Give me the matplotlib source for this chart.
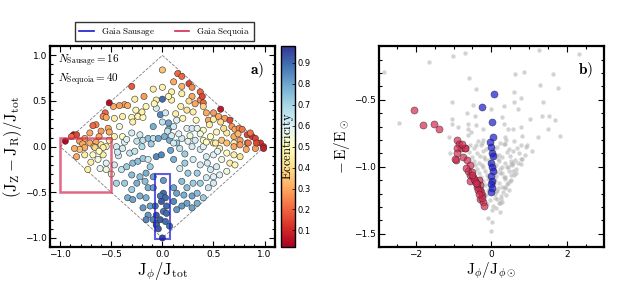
import numpy as np
import matplotlib
matplotlib.use("Agg")
import matplotlib.pyplot as plt
from matplotlib.patches import Rectangle
from matplotlib.lines import Line2D

plt.rcParams['mathtext.fontset'] = 'cm'
plt.rcParams['font.family'] = 'DejaVu Sans'

# ---- panel a: action-space diamond (Jphi/Jtot, (Jz-Jr)/Jtot, eccentricity) ----
jphi_a = [
    0.00, -0.30, -0.18, -0.09, 0.00, 0.09, 0.11, 0.15, 0.19, 0.19, 0.26, 0.29, 0.19, 0.29, 0.37,
    0.37, 0.39, 0.40, 0.09, 0.06, -0.06, 0.00, -0.27, -0.37, -0.42, -0.48, -0.34, -0.52, -0.56, -0.58,
    -0.55, -0.65, -0.68, -0.47, -0.39, -0.30, -0.24, -0.19, -0.29, -0.20, -0.16, -0.06, -0.02, 0.03, 0.00,
    -0.09, 0.06, 0.06, 0.11, 0.14, 0.24, 0.29, 0.34, 0.40, 0.20, 0.24, 0.32, 0.30, 0.43, 0.50,
    0.45, 0.50, 0.57, 0.55, 0.61, 0.66, 0.57, 0.68, 0.71, 0.75, 0.78, 0.83, 0.88, 0.91, 0.96,
    0.99, 0.70, 0.76, 0.83, 0.70, 0.63, 0.53, 0.47, 0.40, 0.50, 0.58, -0.53, -0.60, -0.62, -0.52,
    -0.47, -0.39, -0.52, -0.71, -0.76, -0.81, -0.87, -0.95, -0.84, -0.89, -0.78, -0.71, -0.65, -0.67, -0.60,
    -0.55, -0.30, -0.25, -0.19, -0.14, -0.09, -0.04, 0.02, 0.07, 0.14, 0.19, 0.25, 0.32, 0.37, 0.09,
    -0.37, -0.84, -0.73, -0.76, -0.68, -0.63, -0.58, -0.55, -0.61, -0.55, -0.66, -0.58, -0.76, -0.81, -0.45,
    -0.39, -0.32, -0.43, -0.47, -0.40, -0.35, -0.29, -0.24, -0.19, -0.14, -0.06, -0.01, -0.30, -0.22, -0.16,
    -0.09, -0.25, -0.17, -0.37, -0.45, -0.14, -0.09, -0.30, -0.34, -0.29, -0.22, -0.16, -0.19, -0.12, -0.14,
    -0.09, -0.16, -0.06, 0.01, 0.01, -0.02, 0.03, -0.01, -0.07, 0.04, 0.01, -0.06, 0.04, -0.02, 0.03,
    -0.06, 0.07, 0.00, -0.04, 0.11, 0.17, 0.29, 0.37, 0.40, 0.43, 0.52, 0.56, 0.63, 0.70, 0.76,
    0.84, 0.91, 0.92, 0.99, 0.82, 0.70, 0.63, 0.76, 0.50, 0.43, 0.58, 0.66, 0.71, 0.53, 0.47,
    0.37, 0.30, 0.22, 0.11, 0.17, 0.25, 0.34, 0.43, 0.50, 0.56, 0.63, 0.37, 0.45, 0.50, 0.30,
    0.24, 0.19, 0.11, 0.14, 0.21, 0.29, 0.34, 0.40, 0.24, 0.19, 0.34, 0.29, 0.11, 0.14,
    # extra fill points
    -0.35, -0.22, -0.11, 0.05, 0.16, 0.27, -0.42, -0.26, 0.33, 0.46, 0.60, 0.74, 0.86, 0.44, 0.54,
    -0.86, -0.70, -0.50, -0.62, -0.44, 0.08, 0.22, -0.12, -0.27, -0.20, 0.18, 0.26, 0.40, -0.08, 0.13,
]
jzr_a = [
    0.84, 0.66, 0.55, 0.63, 0.65, 0.60, 0.71, 0.80, 0.77, 0.66, 0.69, 0.65, 0.58, 0.55, 0.60,
    0.51, 0.55, 0.48, 0.51, 0.55, 0.51, 0.52, 0.52, 0.46, 0.45, 0.44, 0.45, 0.48, 0.37, 0.33,
    0.32, 0.24, 0.23, 0.31, 0.33, 0.32, 0.33, 0.32, 0.27, 0.38, 0.44, 0.42, 0.35, 0.37, 0.27,
    0.22, 0.26, 0.19, 0.22, 0.29, 0.20, 0.20, 0.20, 0.18, 0.31, 0.40, 0.47, 0.38, 0.37, 0.37,
    0.29, 0.30, 0.41, 0.33, 0.31, 0.29, 0.27, 0.22, 0.19, 0.20, 0.19, 0.13, 0.11, 0.09, 0.04,
    0.00, 0.11, 0.07, 0.04, 0.04, 0.15, 0.16, 0.11, 0.07, 0.04, 0.07, 0.20, 0.17, 0.11, 0.07,
    0.11, 0.11, 0.16, 0.15, 0.09, 0.06, 0.13, 0.06, 0.13, 0.11, 0.03, 0.04, 0.05, 0.00, 0.02,
    0.00, 0.15, 0.06, 0.07, 0.09, 0.09, 0.09, 0.11, 0.07, 0.04, 0.09, 0.06, 0.07, 0.14, 0.12,
    0.05, -0.11, -0.25, -0.09, -0.09, -0.14, -0.09, -0.18, -0.24, -0.25, -0.01, -0.01, -0.01, -0.03, 0.00,
    -0.02, -0.07, -0.10, -0.20, -0.25, -0.22, -0.18, -0.16, -0.13, -0.14, -0.11, -0.09, -0.31, -0.33, -0.29,
    -0.33, -0.40, -0.38, -0.40, -0.40, -0.45, -0.45, -0.47, -0.56, -0.58, -0.54, -0.56, -0.67, -0.65, -0.75,
    -0.80, -0.80, -0.84, -0.37, -0.51, -0.54, -0.56, -0.60, -0.65, -0.65, -0.71, -0.75, -0.73, -0.80, -0.82,
    -0.86, -0.87, -1.00, -0.90, 0.04, -0.02, 0.00, -0.03, 0.00, 0.05, 0.04, -0.02, 0.04, 0.00, 0.02,
    0.04, -0.02, 0.04, -0.02, -0.03, -0.09, -0.07, -0.11, -0.09, -0.11, -0.14, -0.18, -0.20, -0.22, -0.25,
    -0.20, -0.14, -0.18, -0.14, -0.24, -0.29, -0.29, -0.34, -0.33, -0.31, -0.27, -0.40, -0.45, -0.40, -0.40,
    -0.45, -0.38, -0.45, -0.51, -0.53, -0.54, -0.51, -0.56, -0.62, -0.65, -0.62, -0.67, -0.60, -0.69,
    0.08, 0.13, 0.03, 0.17, 0.14, 0.12, 0.22, 0.40, 0.29, 0.24, 0.20, 0.14, 0.15, -0.18, -0.05,
    -0.02, -0.17, -0.30, -0.05, -0.06, -0.04, -0.08, -0.22, -0.05, 0.00, 0.44, 0.50, 0.44, 0.47, 0.36,
]
ecc_a = [
    0.35, 0.18, 0.28, 0.45, 0.46, 0.45, 0.30, 0.20, 0.20, 0.32, 0.15, 0.25, 0.45, 0.30, 0.20,
    0.25, 0.15, 0.20, 0.45, 0.48, 0.45, 0.90, 0.45, 0.28, 0.28, 0.30, 0.30, 0.05, 0.20, 0.25,
    0.30, 0.25, 0.20, 0.45, 0.45, 0.48, 0.47, 0.50, 0.45, 0.45, 0.48, 0.62, 0.85, 0.62, 0.65,
    0.78, 0.80, 0.78, 0.62, 0.60, 0.60, 0.62, 0.58, 0.50, 0.47, 0.42, 0.30, 0.45, 0.30, 0.28,
    0.30, 0.45, 0.07, 0.30, 0.28, 0.15, 0.40, 0.28, 0.30, 0.25, 0.22, 0.15, 0.12, 0.15, 0.12,
    0.08, 0.30, 0.28, 0.25, 0.45, 0.45, 0.48, 0.50, 0.50, 0.42, 0.35, 0.30, 0.28, 0.30, 0.45,
    0.47, 0.50, 0.30, 0.30, 0.30, 0.28, 0.04, 0.04, 0.15, 0.20, 0.30, 0.30, 0.30, 0.38, 0.45,
    0.45, 0.62, 0.65, 0.65, 0.75, 0.65, 0.80, 0.78, 0.78, 0.72, 0.62, 0.60, 0.62, 0.55, 0.62,
    0.60, 0.30, 0.45, 0.45, 0.50, 0.55, 0.45, 0.60, 0.58, 0.55, 0.38, 0.45, 0.30, 0.35, 0.62,
    0.62, 0.65, 0.62, 0.62, 0.65, 0.72, 0.75, 0.75, 0.72, 0.62, 0.85, 0.85, 0.75, 0.75, 0.78,
    0.80, 0.78, 0.75, 0.72, 0.70, 0.78, 0.80, 0.72, 0.78, 0.80, 0.78, 0.78, 0.82, 0.80, 0.82,
    0.85, 0.85, 0.90, 0.82, 0.90, 0.88, 0.90, 0.92, 0.88, 0.90, 0.88, 0.92, 0.90, 0.92, 0.90,
    0.90, 0.88, 0.95, 0.92, 0.62, 0.65, 0.62, 0.62, 0.60, 0.50, 0.45, 0.45, 0.35, 0.30, 0.28,
    0.22, 0.28, 0.15, 0.08, 0.30, 0.45, 0.50, 0.42, 0.60, 0.62, 0.55, 0.45, 0.48, 0.62, 0.62,
    0.62, 0.62, 0.72, 0.78, 0.62, 0.72, 0.72, 0.62, 0.60, 0.60, 0.55, 0.72, 0.65, 0.62, 0.72,
    0.75, 0.75, 0.80, 0.80, 0.78, 0.80, 0.75, 0.72, 0.80, 0.82, 0.78, 0.80, 0.85, 0.82,
    0.60, 0.62, 0.72, 0.65, 0.60, 0.55, 0.55, 0.48, 0.50, 0.45, 0.40, 0.32, 0.22, 0.62, 0.58,
    0.30, 0.45, 0.55, 0.50, 0.62, 0.80, 0.72, 0.72, 0.65, 0.68, 0.45, 0.40, 0.38, 0.48, 0.45,
]

# ---- panel b: energy vs Jphi ----
jphi_bg = [
    -2.83, -1.66, -1.02, -0.70, 1.26, 2.32, -0.58, -0.41, 0.63, 0.87, 1.62, 1.29, 1.77, 0.61, 0.59,
    0.79, 0.32, 0.71, 1.35, 0.00, -0.48, -1.05, -2.43, -1.04, -1.05, -0.89, -0.65, -0.62, -0.43, -0.40,
    -0.21, -0.21, -0.61, -0.61, -0.55, -1.12, 0.27, 0.33, 0.45, 0.58, 0.79, 0.80, 1.02, 1.33, 1.51,
    1.69, 1.49, 1.82, 1.24, 0.60, 0.35, 0.22, 0.35, -0.26, -0.40, 0.77, 1.07, 0.92, 0.82, 0.77,
    0.64, 0.51, 0.37, 0.26, 0.46, -1.09, -0.56, 0.02, 0.00, -0.08, 0.23,
    -0.47, -0.28, -0.13, 0.14, 0.33, 0.47, 0.68, 0.93, -0.58, -0.37, -0.22, 0.08, 0.19, 0.42,
    0.57, -0.52, -0.31, -0.17, 0.12, 0.27, 0.48, 0.63, 0.88, -0.46, -0.33, -0.07, 0.17, 0.36,
    0.53, 0.78, -0.43, -0.23, -0.03, 0.11, 0.29, 0.52, 0.69, -0.38, -0.18, 0.07, 0.22, 0.41,
    0.58, -0.33, -0.12, 0.13, 0.24, 0.47, 0.61, -0.28, -0.08, 0.11, 0.32, 0.51, -0.22, 0.09,
    0.21, 0.36, 0.48, -0.16, 0.06, 0.27, 0.42, -0.09, 0.12, 0.18, 0.37, -0.13, 0.09, 0.26,
    -0.04, 0.16, 0.29, -0.11, 0.04, 0.19, 0.01, 0.13, -0.35, 0.39, 0.72, 0.55, 0.31, 0.44,
    0.05, 0.21, -0.19, 0.35, 0.66, 0.15, 0.28, -0.26, 0.09, 0.43, 0.57, 0.24, 0.38, -0.02,
]
energy_bg = [
    -0.29, -0.22, -0.17, -0.15, -0.13, -0.16, -0.34, -0.42, -0.31, -0.29, -0.31, -0.39, -0.41, -0.44, -0.52,
    -0.49, -0.55, -0.57, -0.52, -0.57, -0.54, -0.52, -0.67, -0.64, -0.68, -0.70, -0.60, -0.68, -0.62, -0.69,
    -0.72, -0.80, -0.72, -0.76, -0.74, -0.78, -0.63, -0.68, -0.72, -0.72, -0.70, -0.77, -0.64, -0.62, -0.62,
    -0.65, -0.72, -0.77, -0.78, -0.81, -0.78, -0.82, -0.83, -0.82, -0.84, -0.84, -0.88, -0.85, -0.94, -0.98,
    -1.05, -1.10, -1.16, -1.24, -1.17, -0.90, -0.84, -1.41, -1.48, -1.38, -1.34,
    -0.86, -0.84, -0.87, -0.85, -0.83, -0.87, -0.86, -0.84, -0.89, -0.90, -0.88, -0.87, -0.91, -0.89,
    -0.88, -0.93, -0.92, -0.94, -0.91, -0.93, -0.92, -0.95, -0.91, -0.96, -0.97, -0.95, -0.94, -0.97,
    -0.96, -0.94, -0.99, -1.00, -0.98, -0.99, -1.00, -0.98, -0.97, -1.02, -1.03, -1.01, -1.02, -1.00,
    -1.03, -1.05, -1.06, -1.04, -1.05, -1.03, -1.06, -1.08, -1.09, -1.07, -1.08, -1.06, -1.11, -1.10,
    -1.12, -1.09, -1.11, -1.14, -1.13, -1.15, -1.13, -1.17, -1.18, -1.16, -1.15, -1.21, -1.20, -1.22,
    -1.25, -1.24, -1.26, -1.28, -1.29, -1.27, -1.32, -1.31, -0.81, -0.80, -0.90, -0.99, -1.19, -1.00,
    -0.93, -0.96, -0.93, -1.08, -1.02, -1.18, -1.05, -0.99, -1.23, -1.12, -0.97, -1.27, -1.21, -1.10,
]

jphi_sausage = [0.07, -0.24, 0.01, 0.04, -0.05, -0.02, 0.01, 0.03, 0.00, 0.02,
                0.03, 0.00, 0.02, 0.00, 0.01, 0.00]
energy_sausage = [-0.455, -0.555, -0.667, -0.78, -0.815, -0.85, -0.90, -0.92, -0.975, -1.00,
                  -1.03, -1.07, -1.11, -1.13, -1.16, -1.19]

jphi_sequoia = [-2.04, -1.81, -1.51, -1.38, -0.92, -0.85, -0.80, -0.70, -0.92, -0.70,
                -0.78, -0.92, -0.93, -0.74, -0.65, -0.56, -0.95, -0.56, -0.48, -0.34,
                -0.56, -0.43, -0.30, -0.39, -0.30, -0.25, -0.30, -0.22, -0.19, -0.61,
                -0.52, -0.66, -0.45, -0.38, -0.27, -0.35, -0.50, -0.42, -0.24, -0.33]
energy_sequoia = [-0.574, -0.69, -0.68, -0.72, -0.80, -0.83, -0.86, -0.86, -0.86, -0.86,
                  -0.83, -0.90, -0.95, -0.93, -0.95, -0.99, -0.94, -1.06, -1.08, -1.10,
                  -1.11, -1.11, -1.14, -1.15, -1.17, -1.21, -1.24, -1.26, -1.29, -1.03,
                  -1.04, -1.01, -1.09, -1.13, -1.19, -1.17, -1.06, -1.12, -1.23, -1.20]

c_sausage = '#1a1ad0'
c_sequoia = '#d42a50'

fig = plt.figure(figsize=(6.28, 2.87), dpi=100)
ax1 = fig.add_axes([0.0796, 0.139, 0.358, 0.700])
cax = fig.add_axes([0.4475, 0.139, 0.0223, 0.700])
ax2 = fig.add_axes([0.6035, 0.139, 0.358, 0.700])

# panel a
ax1.plot([-1, 0, 1, 0, -1], [0, 1, 0, -1, 0], ls='--', color='gray', lw=0.6, zorder=1)
sc = ax1.scatter(jphi_a, jzr_a, c=ecc_a, cmap='RdYlBu', vmin=0.02, vmax=0.98,
                 s=20, edgecolors='#333333', linewidths=0.4, zorder=2)
ax1.add_patch(Rectangle((-1.0, -0.5), 0.5, 0.6, fill=False, ec=c_sequoia,
                        lw=1.8, alpha=0.7, zorder=3))
ax1.add_patch(Rectangle((-0.075, -1.01), 0.15, 0.71, fill=False, ec=c_sausage,
                        lw=1.5, alpha=0.7, zorder=3))
ax1.set_xlim(-1.1, 1.1)
ax1.set_ylim(-1.1, 1.1)
ax1.set_xticks([-1.0, -0.5, 0.0, 0.5, 1.0])
ax1.set_yticks([-1.0, -0.5, 0.0, 0.5, 1.0])
ax1.set_xlabel(r'$\mathrm{J}_\phi/\mathrm{J}_\mathrm{tot}$', fontsize=12, labelpad=1)
ax1.set_ylabel(r'$(\mathrm{J_Z - J_R})/\mathrm{J_{tot}}$', fontsize=12, labelpad=1)
ax1.text(0.035, 0.97, r'$N_\mathrm{Sausage}=16$' + '\n' + r'$N_\mathrm{Sequoia}=40$',
         transform=ax1.transAxes, ha='left', va='top', fontsize=8, linespacing=1.3)
ax1.text(0.95, 0.93, r'$\mathbf{a)}$', transform=ax1.transAxes, ha='right', va='top', fontsize=11)

cb = fig.colorbar(sc, cax=cax)
cb.set_ticks([0.1, 0.2, 0.3, 0.4, 0.5, 0.6, 0.7, 0.8, 0.9])
cb.ax.tick_params(labelsize=6, direction='in', length=2, width=0.5, pad=2)
cb.outline.set_linewidth(1.0)
cax.text(0.5, 0.5, r'$\mathrm{Eccentricity}$', rotation=90, transform=cax.transAxes,
         ha='center', va='center', fontsize=9)

# panel b
ax2.scatter(jphi_bg, energy_bg, s=10, color='#b0b0b0', alpha=0.55, lw=0, zorder=1)
ax2.scatter(jphi_sequoia, energy_sequoia, s=26, color=c_sequoia, alpha=0.7,
            edgecolors='#222222', linewidths=0.4, zorder=2)
ax2.scatter(jphi_sausage, energy_sausage, s=26, color=c_sausage, alpha=0.7,
            edgecolors='#222222', linewidths=0.4, zorder=3)
ax2.set_xlim(-2.97, 2.97)
ax2.set_ylim(-1.6, -0.1)
ax2.set_xticks([-2, 0, 2])
ax2.set_yticks([-1.5, -1.0, -0.5])
ax2.set_xlabel(r'$\mathrm{J}_\phi/\mathrm{J}_{\phi\odot}$', fontsize=11, labelpad=1)
ax2.set_ylabel(r'$-\,\mathrm{E}/\mathrm{E}_\odot$', fontsize=11, labelpad=2)
ax2.text(0.95, 0.93, r'$\mathbf{b)}$', transform=ax2.transAxes, ha='right', va='top', fontsize=11)

for ax in (ax1, ax2):
    ax.minorticks_on()
    ax.tick_params(which='both', direction='in', top=True, right=True, labelsize=6.5,
                   width=0.8, pad=2)
    ax.tick_params(which='major', length=4)
    ax.tick_params(which='minor', length=2)
    for sp in ax.spines.values():
        sp.set_linewidth(1.6)

handles = [Line2D([], [], color=c_sausage, lw=1.2),
           Line2D([], [], color=c_sequoia, lw=1.2)]
fig.legend(handles, [r'$\mathrm{Gaia\ Sausage}$', r'$\mathrm{Gaia\ Sequoia}$'],
           loc='center', bbox_to_anchor=(0.262, 0.889), ncol=2, fontsize=6.5,
           frameon=True, fancybox=False, edgecolor='black', handlelength=1.6,
           columnspacing=2.2, borderpad=0.4)

fig.savefig('out.png', dpi=100)
